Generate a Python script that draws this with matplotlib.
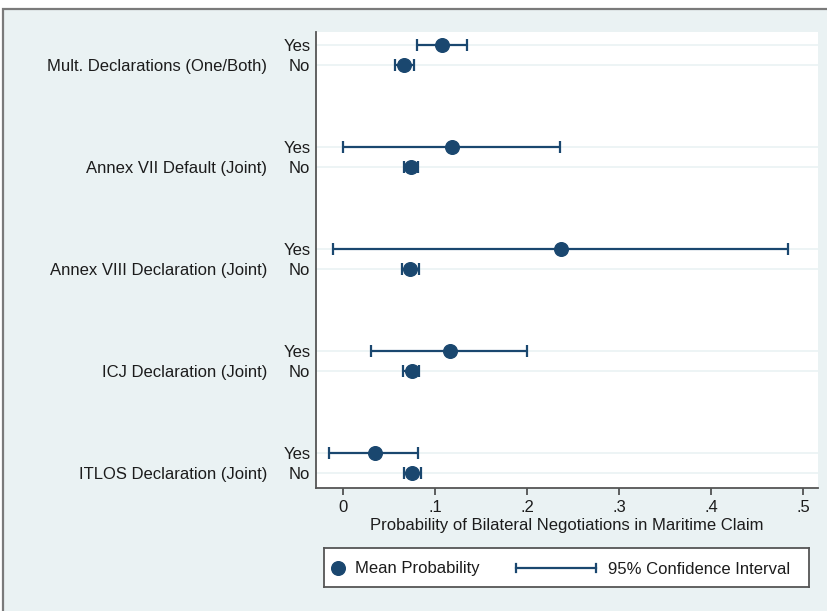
import numpy as np
import matplotlib.pyplot as plt
from matplotlib.patches import Rectangle
from matplotlib.transforms import blended_transform_factory

plt.rcParams['font.family'] = ['Liberation Sans', 'DejaVu Sans']

# groups listed top to bottom
groups = ["Mult. Declarations (One/Both)", "Annex VII Default (Joint)",
          "Annex VIII Declaration (Joint)", "ICJ Declaration (Joint)",
          "ITLOS Declaration (Joint)"]

yes_mean = [0.108, 0.118, 0.237, 0.116, 0.035]
yes_lo = [0.081, 0.0005, -0.011, 0.030, -0.015]
yes_hi = [0.135, 0.236, 0.484, 0.200, 0.082]

no_mean = [0.066, 0.074, 0.073, 0.075, 0.075]
no_lo = [0.057, 0.066, 0.064, 0.065, 0.066]
no_hi = [0.077, 0.082, 0.083, 0.083, 0.085]

xticks = [0, 0.1, 0.2, 0.3, 0.4, 0.5]
xticklabels = ["0", ".1", ".2", ".3", ".4", ".5"]

navy = "#1a476f"
bg = "#eaf2f3"
txt = "#1c1c1c"
fs = 12

fig = plt.figure(figsize=(8.28, 6.11), dpi=100)
fig.patch.set_facecolor("white")
fig.patches.append(Rectangle((0.0036, -0.02), 1.02, 1.02 - 9 / 611,
                             transform=fig.transFigure, facecolor=bg,
                             edgecolor="#7a7a7a", lw=1.6, zorder=-10))

ax = fig.add_axes([316 / 828, 1 - 488 / 611, 502 / 828, 456 / 611])
ax.set_facecolor("white")

n = len(groups)
y_no = np.array([5 * (n - 1 - i) for i in range(n)], dtype=float)
y_yes = y_no + 1

for y in np.concatenate([y_no, y_yes]):
    ax.axhline(y, color=bg, lw=1.2, zorder=0)

def draw(mean, lo, hi, ys):
    mean = np.array(mean)
    err = [mean - np.array(lo), np.array(hi) - mean]
    ax.errorbar(mean, ys, xerr=err, fmt="none", ecolor=navy, elinewidth=1.6,
                capsize=4.5, capthick=1.6, zorder=2)
    ax.plot(mean, ys, "o", color=navy, ms=9.8, zorder=3)

draw(yes_mean, yes_lo, yes_hi, y_yes)
draw(no_mean, no_lo, no_hi, y_no)

ax.set_xlim(-0.0293, 0.5163)
ax.set_ylim(-0.73, 21.63)
ax.set_xticks(xticks)
ax.set_xticklabels(xticklabels)
ax.set_yticks(np.concatenate([y_yes, y_no]))
ax.set_yticklabels(["Yes"] * n + ["No"] * n)
ax.tick_params(axis="y", length=0, pad=4, labelsize=fs, labelcolor=txt)
ax.tick_params(axis="x", length=5, width=1.2, color="#444444", pad=4,
               labelsize=fs, labelcolor=txt)
for s in ["top", "right"]:
    ax.spines[s].set_visible(False)
for s in ["left", "bottom"]:
    ax.spines[s].set_color("#555555")
    ax.spines[s].set_linewidth(1.3)

ax.set_xlabel("Probability of Bilateral Negotiations in Maritime Claim",
              fontsize=fs, color=txt, labelpad=2)

trans = blended_transform_factory(ax.transAxes, ax.transData)
for g, y in zip(groups, y_no):
    ax.text(-49 / 502, y, g, transform=trans, ha="right",
            va="center_baseline", fontsize=fs, color=txt)

# legend box
lax = fig.add_axes([324 / 828, 1 - 587 / 611, 485 / 828, 39 / 611])
lax.set_xlim(0, 485)
lax.set_ylim(0, 39)
lax.set_xticks([])
lax.set_yticks([])
lax.set_facecolor("white")
for s in lax.spines.values():
    s.set_color("#555555")
    s.set_linewidth(1.3)
lax.plot([14], [19.5], "o", color=navy, ms=9.8)
lax.text(31, 19.5, "Mean Probability", va="center_baseline", fontsize=fs,
         color=txt)
lax.plot([192, 272], [19.5, 19.5], color=navy, lw=1.6)
lax.plot([192, 192], [15.5, 23.5], color=navy, lw=1.6)
lax.plot([272, 272], [15.5, 23.5], color=navy, lw=1.6)
lax.text(284, 19.5, "95% Confidence Interval", va="center_baseline",
         fontsize=fs, color=txt)

fig.savefig("out.png", dpi=100)
